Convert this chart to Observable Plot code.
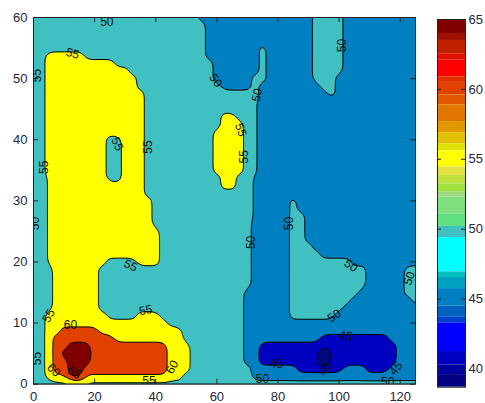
<!DOCTYPE html>
<html><head><meta charset="utf-8">
<script src="https://cdn.jsdelivr.net/npm/d3@7"></script>
<script src="https://cdn.jsdelivr.net/npm/@observablehq/plot@0.6"></script>
<style>
body{margin:0;background:#fff;}
#wrap{position:relative;width:485px;height:403px;}
#wrap svg{position:absolute;top:0;}
</style></head><body><div id="wrap"></div>
<script>
// axes
const xTicks = [0, 20, 40, 60, 80, 100, 120];
const yTicks = [0, 10, 20, 30, 40, 50, 60];
const xDomain = [0, 125];
const yDomain = [0, 60];
// contour levels and band colours (band >= level)
const levels = [0, 40, 45, 50, 55, 60, 65];
const levelFills = ["#000a80", "#0000c0", "#0080c0", "#40c0c0", "#ffff00", "#e04000", "#800000"];
// grid of read values: columns x = 0..125 step 2.5, rows y = 60 (top) .. 0 step 1.25
const cellValue = {n: 32, d: 42.5, b: 47.5, c: 49, u: 51, t: 52.5, w: 55.7, y: 57.5, q: 59.5, o: 62.5, r: 67.5};
const gridXRange = [0, 125];
const gridYRange = [60, 0];
const gridRows = [
"tttttttttt ttttccccct ttbbbbbbbb bbbbbbbttt tbbbbbbbbb b", // 60
"tttttttttt tttttttttt tttbbbbbbb bbbbbbbttt tbbbbbbbbb b", // 58.75
"tttttttttt tttttttttt tttbbbbbbb bbbbbbbttt tbbbbbbbbb b", // 57.5
"tttttttttt tttttttttt tttbbbbbbb bbbbbbbttt tbbbbbbbbb b", // 56.25
"tttttttttt tttttttttt tttbbbbbbb tbbbbbbttt tbbbbbbbbb b", // 55
"ttyyyyyttt tttttttttt tttbbbbbbb tbbbbbbttt tbbbbbbbbb b", // 53.75
"ttyyyyyyyy yttttttttt ttttbbbbbb tbbbbbbttt tbbbbbbbbb b", // 52.5
"ttyyyyyyyy yyyttttttt ttttbbbbbb tbbbbbbttt tbbbbbbbbb b", // 51.25
"ttyyyyyyyy yyyytttttt ttttbbbbbt tbbbbbbttt bbbbbbbbbb b", // 50
"ttyyyyyyyy yyyytttttt tttttbbbbt bbbbbbbbtt bbbbbbbbbb b", // 48.75
"ttyyyyyyyy yyyyyttttt tttttttttt bbbbbbbbbt bbbbbbbbbb b", // 47.5
"ttyyyyyyyy yyyyyttttt tttttttttu bbbbbbbbbb bbbbbbbbbb b", // 46.25
"ttyyyyyyyy yyyyyttttt tttttttttu bbbbbbbbbb bbbbbbbbbb b", // 45
"ttyyyyyyyy yyyyyttttt tttttyyttu bbbbbbbbbb bbbbbbbbbb b", // 43.75
"ttyyyyyyyy yyyyyttttt tttttyyytu bbbbbbbbbb bbbbbbbbbb b", // 42.5
"ttyyyyyyyy yyyyyttttt ttttyyyytu bbbbbbbbbb bbbbbbbbbb b", // 41.25
"ttyyyyyyyy ttyyyttttt ttttyyyytu bbbbbbbbbb bbbbbbbbbb b", // 40
"ttyyyyyyyy ttyyyttttt ttttyyyytu bbbbbbbbbb bbbbbbbbbb b", // 38.75
"ttyyyyyyyy ttyyyttttt ttttyyyytu bbbbbbbbbb bbbbbbbbbb b", // 37.5
"ttyyyyyyyy ttyyyttttt ttttyyyytu bbbbbbbbbb bbbbbbbbbb b", // 36.25
"ttyyyyyyyy ttyyyttttt ttttyyyytu bbbbbbbbbb bbbbbbbbbb b", // 35
"ttwyyyyyyy ttyyyttttt tttttyyttc bbbbbbbbbb bbbbbbbbbb b", // 33.75
"ttwyyyyyyy yyyyyttttt tttttyyttc bbbbbbbbbb bbbbbbbbbb b", // 32.5
"ttwyyyyyyy yyyyyttttt tttttttttc bbbbbbbbbb bbbbbbbbbb b", // 31.25
"ttwyyyyyyy yyyyyytttt tttttttttc bbbbtbbbbb bbbbbbbbbb b", // 30
"ttwyyyyyyy yyyyyytttt tttttttttc bbbbtbbbbb bbbbbbbbbb b", // 28.75
"ttwyyyyyyy yyyyyytttt tttttttttc bbbbttbbbb bbbbbbbbbb b", // 27.5
"ctwyyyyyyy yyyyyytttt tttttttttb bbbbttbbbb bbbbbbbbbb b", // 26.25
"ctwyyyyyyy yyyyyyyttt tttttttttb bbbbttbbbb bbbbbbbbbb b", // 25
"ctwyyyyyyy yyyyyyyttt tttttttttb bbbbttbbbb bbbbbbbbbb b", // 23.75
"ctwyyyyyyy yyyyyyyttt tttttttttb bbbbtttbbb bbbbbbbbbb b", // 22.5
"ctwyyyyyyy yyyyyyyttt tttttttttb bbbbttttbb bbbbbbbbbb b", // 21.25
"ctwyyyyyyy ttttyyyttt tttttttttb bbbbtttttt ttbbbbbbbb b", // 20
"cttyyyyyyt tttttttttt tttttttttb bbbbtttttt ttttbbbbbt t", // 18.75
"cttyyyyyyt tttttttttt tttttttttb bbbbtttttt ttttbbbbbt t", // 17.5
"cttyyyyyyt tttttttttt tttttttttb bbbbtttttt ttttbbbbbt t", // 16.25
"cttyyyyyyt tttttttttt ttttttttbb bbbbtttttt tttbbbbbbt t", // 15
"cttyyyyyyt tttttttttt ttttttttbb bbbbtttttt ttbbbbbbbb t", // 13.75
"cttyyyyyyt tttttttttt ttttttttbb bbbbtttttt tbbbbbbbbb b", // 12.5
"ttyyyyyyyy ttttyyyttt ttttttttbb bbbbtttttt bbbbbbbbbb b", // 11.25
"ttyyyyyyyy yyyyyyyytt ttttttttbb bbbbbbbbbb bbbbbbbbbb b", // 10
"ttyyoooooy yyyyyyyyyy ttttttttbb bbbbbbbbbb bbbbbbbbbb b", // 8.75
"ttyooooooo oyyyyyyyyy ttttttttbb bbbbbbbbdd dddddddbbb b", // 7.5
"ttyoorrroo ooooooooyy ytttttttbb dddddddddd ddddddddbb b", // 6.25
"ttyorrrroo ooooooooyy ytttttttbb ddddddddnd ddddddddbb b", // 5
"ttyoorrroo ooooooooyy ytttttttbb ddddddddnd ddddddddbb b", // 3.75
"ttyoorrooo ooooooooyy yttttttttb bbbbbddddd dbbbdddbbb b", // 2.5
"ttyqqrrqqq qqqqqqqqyy tttttttttb bbbbbbbbbb bbbbbbbbbb b", // 1.25
"tttttttttt tttttttttt tttttttttt tttttttttt tttttttttt t"  // 0
];
// contour labels
const labelText  = ["55","55","55","50","55","55","55","55","55","55","60","60","65","55","60","55","55","50","50","50","50","50","50","50","50","45","45","45","40","50","50","50"];
const labelX     = [12.8, 1.2, 3.6, 0.5, 27.4, 37.5, 31.8, 5.0, 36.7, 1.2, 12.1, 6.6, 13.2, 37.8, 45.4, 67.8, 69.0, 59.6, 73.2, 71.1, 83.6, 101.1, 103.9, 98.4, 123.0, 102.2, 118.6, 79.5, 95.7, 74.9, 115.9, 24.0];
const labelY     = [54.1, 50.5, 35.5, 26.3, 39.3, 38.8, 19.4, 11.2, 12.1, 4.2, 9.6, 2.3, 1.9, 0.5, 2.8, 41.6, 37.2, 49.7, 47.3, 23.2, 26.3, 55.4, 19.4, 11.2, 17.3, 7.9, 2.6, 3.3, 2.5, 0.8, 0.4, 59.3];
const labelAngle = [15, -90, -90, -90, 65, -90, 25, -60, -10, -90, 0, 45, 30, 0, -60, 70, -90, 55, -80, -90, -90, -90, 35, -35, -70, 10, -50, 0, -50, 0, 0, 0];
// colour bar (colormap stripes)
const cbBounds = [65, 64.0, 63.5, 62.55, 62.1, 60.9, 60.5, 59.6, 58.9, 57.7, 56.9, 56.1, 55.6, 54.45, 53.85, 53.25, 52.65, 52.3, 51.1, 50.2, 49.4, 46.95, 46.55, 45.75, 44.5, 43.7, 43.3, 41.25, 40.3, 39.6, 38.7];
const cbColors = ["#800000","#a01000","#c02000","#e01000","#ff0000","#e03000","#e04000","#e05800","#e07800","#e09800","#e0c000","#e0e000","#ffff00","#e0e040","#c0e040","#a0e040","#a0d880","#80e080","#60e080","#40c0c0","#00ffff","#00c0c0","#00a0c0","#0080c0","#0060c0","#0040d0","#0000ff","#0000c0","#0000a0","#000080"];
const cbTicks = [40, 45, 50, 55, 60, 65];

// ---- build sample points from the grid
const rows = gridRows.map(r => r.replace(/ /g, ""));
const nCols = rows[0].length, nRows = rows.length;
const dx = (gridXRange[1] - gridXRange[0]) / (nCols - 1);
const dy = (gridYRange[0] - gridYRange[1]) / (nRows - 1);
const samples = rows.flatMap((r, j) => Array.from(r, (ch, i) => ({
  x: gridXRange[0] + i * dx, y: gridYRange[0] - j * dy, v: cellValue[ch]
})));

const W = 485, H = 403, mL = 33, mR = 70, mT = 17, mB = 19.3;
const innerW = W - mL - mR, innerH = H - mT - mB;
const style = {fontFamily: "'Liberation Sans', Arial, sans-serif", fontSize: "13px", color: "#262640", background: "transparent", overflow: "visible"};
const labelIdx = d3.range(labelText.length);

const main = Plot.plot({
  width: W, height: H, marginLeft: mL, marginRight: mR, marginTop: mT, marginBottom: mB,
  x: {domain: xDomain, label: null},
  y: {domain: yDomain, label: null},
  color: {type: "ordinal", domain: levels, range: levelFills},
  style,
  marks: [
    Plot.contour(samples, {
      x: "x", y: "y", fill: "v",
      interpolate: "barycentric", pixelSize: 1, blur: 3,
      thresholds: levels, stroke: "#000", strokeWidth: 1, clip: true
    }),
    Plot.text(labelIdx, {x: i => labelX[i], y: i => labelY[i], text: i => labelText[i], rotate: i => labelAngle[i], fontSize: 12, fill: "#111", clip: true}),
    Plot.ruleX(xTicks, {insetTop: innerH - 5, stroke: "#222"}),
    Plot.ruleX(xTicks, {insetBottom: innerH - 5, stroke: "#222"}),
    Plot.ruleY(yTicks, {insetRight: innerW - 5, stroke: "#222"}),
    Plot.ruleY(yTicks, {insetLeft: innerW - 5, stroke: "#222"}),
    Plot.frame({stroke: "#222"}),
    Plot.axisX(xTicks, {tickSize: 0, tickPadding: 8, fontSize: 13}),
    Plot.axisY(yTicks, {tickSize: 0, tickPadding: 6, fontSize: 13})
  ]
});

const cbIdx = d3.range(cbColors.length);
const cbW = 28;
const cb = Plot.plot({
  width: 65, height: H, marginLeft: 17, marginRight: 20, marginTop: 19, marginBottom: 16.3,
  x: {domain: [0, 1], axis: null},
  y: {domain: [cbBounds[cbBounds.length - 1], cbBounds[0]], label: null},
  color: {type: "identity"},
  style,
  marks: [
    Plot.rect(cbIdx, {x1: () => 0, x2: () => 1, y1: i => cbBounds[i + 1], y2: i => cbBounds[i], fill: i => cbColors[i]}),
    Plot.ruleY(cbTicks, {insetRight: cbW - 4, stroke: "#222"}),
    Plot.ruleY(cbTicks, {insetLeft: cbW - 4, stroke: "#222"}),
    Plot.frame({stroke: "#222"}),
    Plot.axisY(cbTicks, {anchor: "right", tickSize: 0, tickPadding: 3, fontSize: 13})
  ]
});
main.style.left = "0px";
cb.style.left = "420px";
const wrap = document.getElementById("wrap");
wrap.appendChild(main);
wrap.appendChild(cb);
</script>
</body></html>
